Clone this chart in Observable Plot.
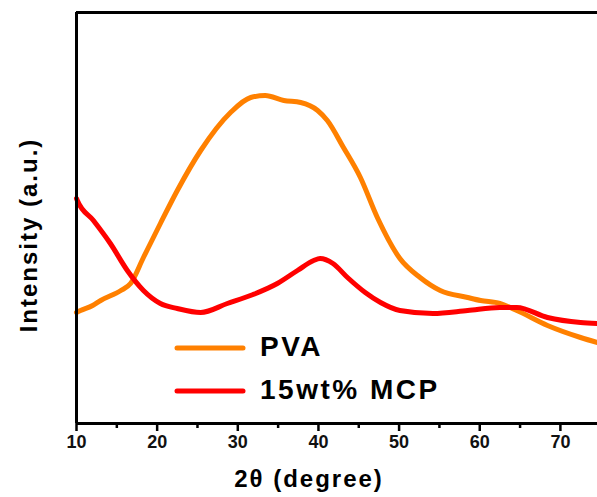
<!DOCTYPE html>
<html>
<head>
<meta charset="utf-8">
<script src="https://cdn.jsdelivr.net/npm/d3@7"></script>
<script src="https://cdn.jsdelivr.net/npm/@observablehq/plot@0.6"></script>
<style>
  html, body { margin: 0; padding: 0; background: #fff; }
  #chart svg { display: block; }
</style>
</head>
<body>
<div id="chart"></div>
<script>
// Series names and colours
const seriesNames = ["PVA", "15wt% MCP"];
const seriesColors = ["#ff8000", "#ff0000"];

// PVA: 2θ (degree) and intensity (a.u.)
const pvaX = [10, 10.5, 12, 13, 15.5, 16.7, 18.3, 20.4, 22.5, 25.4, 29.1, 31.6, 33.4, 35.7, 37.8, 39.9, 41.1, 43.1, 45.2, 47.3, 50.1, 52.6, 55.1, 58.5, 60.1, 62.5, 64.6, 68.4, 72.5, 74.6];
const pvaY = [111, 113, 118, 123, 133, 140, 166, 200, 233, 273, 311, 326, 328, 323, 321, 313, 303, 276, 246, 206, 165, 146, 133, 126, 123, 120, 113, 98, 86, 81];

// 15wt% MCP
const mcpX = [10, 10.1, 12.1, 14.2, 16.3, 18.3, 20.4, 22.5, 25.4, 28.7, 31.9, 34.9, 37.4, 39.4, 40.2, 41.8, 43.6, 45.8, 47.7, 50.1, 54.2, 58.5, 62.5, 64.6, 68.4, 72.5, 74.6];
const mcpY = [225, 223, 203, 180, 153, 133, 120, 115, 111, 120, 129, 140, 153, 163, 165, 160, 146, 131, 121, 113, 110, 113, 116, 116, 106, 101, 100];

// Axis ticks
const majorTicks = [10, 20, 30, 40, 50, 60, 70];
const minorTicks = [15, 25, 35, 45, 55, 65];
const xDomain = [10, 74.6];
const yDomain = [0, 411];
const xTitle = "2θ (degree)";
const yTitle = "Intensity (a.u.)";

const pva = pvaX.map((x, i) => ({x, y: pvaY[i]}));
const mcp = mcpX.map((x, i) => ({x, y: mcpY[i]}));

const font = "'Liberation Sans', Arial, Helvetica, sans-serif";

const chart = Plot.plot({
  width: 597,
  height: 497,
  marginLeft: 76,
  marginRight: 0,
  marginTop: 12,
  marginBottom: 74,
  style: {fontFamily: font, background: "#fff", overflow: "visible"},
  x: {domain: xDomain},
  y: {domain: yDomain, axis: null},
  marks: [
    Plot.line(pva, {x: "x", y: "y", stroke: seriesColors[0], strokeWidth: 5, curve: "monotone-x"}),
    Plot.line(mcp, {x: "x", y: "y", stroke: seriesColors[1], strokeWidth: 5, curve: "monotone-x"}),
    Plot.ruleY([yDomain[0]], {stroke: "#000", strokeWidth: 3}),
    Plot.ruleY([yDomain[1]], {stroke: "#000", strokeWidth: 3}),
    Plot.ruleX([xDomain[0]], {stroke: "#000", strokeWidth: 3}),
    Plot.axisX(majorTicks, {tickSize: 8, tickPadding: 4, strokeWidth: 2.5, stroke: "#000", fontSize: 18, fontWeight: "bold", fill: "#111", label: null}),
    Plot.axisX(minorTicks, {tickSize: 5, strokeWidth: 2.5, stroke: "#000", tickFormat: () => "", label: null})
  ]
});

document.getElementById("chart").appendChild(chart);

const svg = d3.select(chart);

// Axis titles
svg.append("text")
  .attr("x", 309).attr("y", 487)
  .attr("text-anchor", "middle")
  .attr("font-family", font).attr("font-weight", "bold")
  .attr("font-size", 24).attr("letter-spacing", 2)
  .attr("fill", "#000")
  .text(xTitle);

svg.append("text")
  .attr("transform", "translate(37,235) rotate(-90)")
  .attr("text-anchor", "middle")
  .attr("font-family", font).attr("font-weight", "bold")
  .attr("font-size", 24).attr("letter-spacing", 2)
  .attr("fill", "#000")
  .text(yTitle);

// Legend
const legend = svg.append("g");
seriesNames.forEach((name, i) => {
  const cy = 348 + i * 43;
  legend.append("line")
    .attr("x1", 177).attr("x2", 243).attr("y1", cy).attr("y2", cy)
    .attr("stroke", seriesColors[i]).attr("stroke-width", 5).attr("stroke-linecap", "round");
  legend.append("text")
    .attr("x", 260).attr("y", cy + 8)
    .attr("text-anchor", "start")
    .attr("font-family", font).attr("font-weight", "bold")
    .attr("font-size", 28).attr("letter-spacing", 2.5)
    .attr("fill", "#000")
    .text(name);
});
</script>
</body>
</html>
